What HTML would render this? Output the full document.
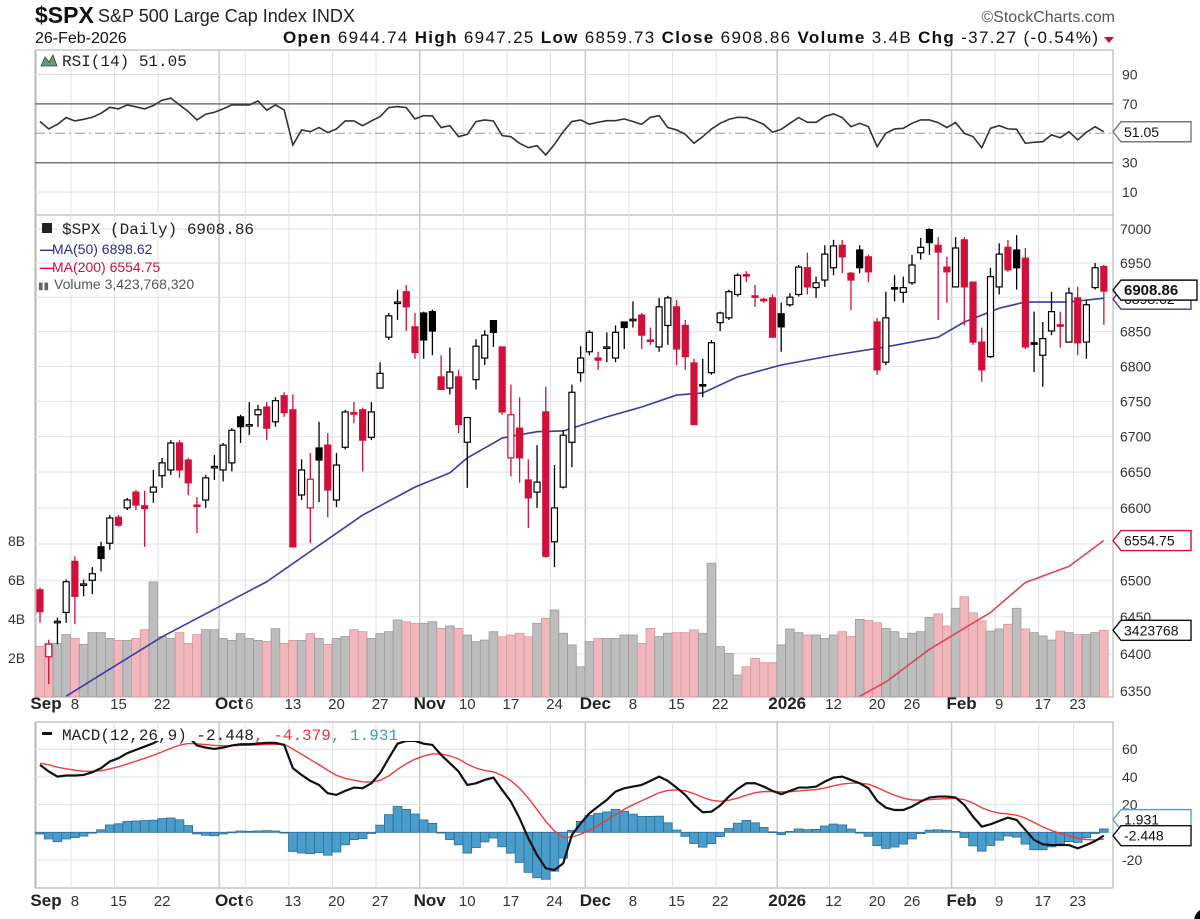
<!DOCTYPE html>
<html><head><meta charset="utf-8"><style>
html,body{margin:0;padding:0;background:#fff;}
svg{display:block;font-family:"Liberation Sans",Arial,sans-serif;}
</style></head><body>
<svg id="chart" width="1200" height="919" viewBox="0 0 1200 919" xmlns="http://www.w3.org/2000/svg">
<defs>
<clipPath id="cRsi"><rect x="35" y="50" width="1078" height="165"/></clipPath>
<clipPath id="cPx"><rect x="35" y="215" width="1078" height="482"/></clipPath>
<clipPath id="cMacd"><rect x="35" y="741" width="1078" height="147"/></clipPath>
</defs>
<g>
<text x="35" y="23" font-size="23" font-weight="bold" fill="#111">$SPX</text>
<text x="98" y="22" font-size="18" fill="#222">S&amp;P 500 Large Cap Index  INDX</text>
<text x="1115" y="22" font-size="16" fill="#555" text-anchor="end">©StockCharts.com</text>
<text x="35" y="43" font-size="16" fill="#111">26-Feb-2026</text>
<text x="283" y="43" font-size="17" fill="#111" textLength="815" lengthAdjust="spacing"><tspan font-weight="bold">Open</tspan> 6944.74  <tspan font-weight="bold">High</tspan> 6947.25  <tspan font-weight="bold">Low</tspan> 6859.73  <tspan font-weight="bold">Close</tspan> 6908.86  <tspan font-weight="bold">Volume</tspan> 3.4B  <tspan font-weight="bold">Chg</tspan> -37.27 (-0.54%)</text>
<polygon points="1104,37 1114,37 1109,43" fill="#c8102e"/>
</g>
<g id="panels"></g>
<circle cx="1207" cy="921" r="13" fill="#000"/>
</svg>
<script>
const opens=[6487,6396,6442,6456,6526,6494,6500,6546,6551,6587,6600,6622,6603,6622,6645,6653,6691,6667,6604,6611,6657,6653,6663,6728,6716,6731,6742,6721,6758,6738,6618,6600,6684,6688,6611,6685,6734,6738,6699,6769,6842,6892,6908,6857,6877,6879,6785,6769,6785,6692,6781,6812,6866,6828,6670,6712,6639,6622,6735,6553,6629,6692,6791,6821,6812,6827,6812,6864,6867,6874,6838,6828,6859,6886,6859,6805,6774,6791,6863,6870,6904,6933,6902,6897,6899,6876,6889,6904,6943,6914,6925,6943,6976,6935,6969,6959,6864,6806,6914,6907,6921,6965,6999,6976,6944,6915,6984,6922,6835,6814,6915,6973,6969,6957,6834,6816,6851,6860,6835,6899,6835,6914,6944.74];
const highs=[6490,6419,6449,6501,6533,6501,6518,6553,6590,6590,6614,6625,6624,6653,6670,6695,6695,6670,6615,6646,6674,6691,6712,6731,6749,6745,6749,6756,6763,6760,6668,6677,6721,6705,6677,6738,6749,6741,6749,6806,6877,6911,6918,6877,6879,6882,6816,6827,6795,6728,6839,6852,6867,6828,6774,6756,6668,6688,6771,6660,6709,6774,6829,6852,6821,6849,6859,6864,6894,6877,6856,6899,6902,6896,6867,6811,6811,6838,6879,6911,6935,6938,6918,6899,6904,6892,6906,6947,6965,6930,6976,6984,6984,6937,6976,6962,6870,6908,6932,6930,6962,6987,7001,6988,6959,6988,6988,6922,6856,6943,6979,6984,6991,6972,6879,6864,6908,6879,6914,6915,6896,6950,6947.25];
const lows=[6442,6359,6413,6442,6440,6478,6481,6512,6542,6574,6597,6597,6546,6607,6628,6646,6642,6618,6565,6600,6639,6637,6651,6691,6702,6714,6695,6714,6728,6545,6611,6551,6608,6587,6601,6682,6719,6651,6695,6769,6838,6867,6851,6811,6811,6816,6767,6760,6705,6628,6767,6802,6828,6731,6644,6635,6572,6600,6531,6518,6627,6657,6778,6816,6795,6806,6806,6825,6856,6825,6831,6821,6831,6802,6795,6717,6756,6788,6851,6867,6901,6922,6886,6892,6842,6821,6886,6901,6904,6899,6915,6932,6935,6881,6935,6922,6788,6802,6894,6892,6918,6955,6962,6867,6892,6914,6859,6831,6778,6812,6904,6937,6911,6825,6792,6771,6845,6827,6834,6816,6811,6911,6859.73];
const closes=[6457,6413,6444,6498,6478,6495,6509,6530,6586,6576,6611,6604,6599,6629,6663,6691,6653,6635,6602,6642,6658,6688,6709,6714,6717,6738,6712,6751,6734,6546,6653,6640,6667,6625,6660,6735,6733,6695,6735,6790,6873,6893,6886,6820,6838,6851,6767,6792,6717,6727,6829,6845,6849,6735,6731,6670,6614,6636,6533,6600,6702,6763,6812,6849,6809,6828,6849,6856,6868,6845,6837,6886,6899,6825,6814,6717,6773,6834,6877,6908,6932,6931,6900,6895,6842,6857,6900,6944,6915,6921,6963,6975,6959,6925,6943,6937,6795,6870,6913,6914,6947,6973,6980,6966,6937,6972,6915,6835,6795,6930,6963,6940,6943,6828,6833,6840,6879,6858,6906,6834,6889,6943,6908.86];
const volumes=[2.6,2.75,2.75,3.2,3.0,2.7,3.3,3.3,3.0,2.9,2.9,3.0,3.45,5.9,3.1,3.0,3.3,2.75,3.2,3.45,3.45,3.0,2.9,3.25,3.0,2.9,2.85,3.5,2.75,2.9,2.9,3.25,3.0,2.7,3.0,3.1,3.45,3.35,3.0,3.25,3.35,3.95,
3.86,3.78,3.78,3.86,3.52,3.64,3.52,3.18,2.84,2.92,3.35,3.09,3.18,3.27,3.09,3.78,4.03,4.46,3.27,2.67,1.55,2.84,3.0,3.0,3.0,3.18,3.18,2.75,3.52,3.1,3.27,3.3,3.3,3.44,3.27,6.86,2.58,2.24,1.13,1.55,1.98,1.76,1.76,
2.67,3.49,3.3,3.18,3.18,3.0,3.18,3.35,3.1,3.98,3.92,3.81,3.52,3.35,3.0,3.27,3.35,4.08,4.26,3.64,4.55,5.14,4.32,3.91,3.38,3.49,3.73,4.55,3.49,3.3,3.13,2.92,3.38,3.3,3.2,3.2,3.3,3.42];
const rsi=[58.0,53.0,56.1,60.7,58.4,59.5,60.9,63.6,67.7,66.6,69.3,68.0,66.6,68.9,72.5,73.9,69.3,64.8,59.1,63.0,64.3,66.6,69.3,69.3,69.3,72.0,65.7,69.3,65.9,42.0,52.3,51.1,53.9,50.5,53.0,58.4,58.4,55.2,58.4,61.4,67.5,68.2,67.5,59.8,62.0,61.8,53.9,55.2,47.7,49.3,58.0,59.1,58.4,48.4,47.7,43.2,40.2,41.6,35.2,42.5,51.1,
58.0,59.1,56.1,57.5,58.6,58.6,59.8,58.0,56.1,60.9,62.0,53.9,52.3,49.3,43.2,47.7,52.9,56.8,59.5,60.9,60.7,58.6,56.1,50.7,52.7,56.8,60.7,57.5,57.5,61.4,63.2,60.7,54.5,56.8,54.5,40.9,50.0,53.0,53.4,56.8,59.1,59.1,57.3,53.9,57.3,50.0,47.7,40.2,53.4,55.2,53.0,52.7,43.2,43.9,44.3,48.9,47.0,51.1,45.5,50.7,54.5,51.05];
const macd=[48.7,43.9,40.2,41.0,41.0,41.4,43.4,46.3,51.1,53.5,57.1,59.5,61.9,64.3,68,71,72,69,62.7,61.2,60.2,61.2,62.7,63.6,63.6,64.1,64.6,64.6,63.1,46.3,41.4,37.1,34.2,28.2,27.0,29.9,32.3,31.8,35.4,42.7,53.5,64,66,66,64,63.1,55.9,49.9,43.9,34.2,35.4,37.8,39.5,30.6,22.2,10.1,-4.3,-16.4,-26.0,-27.2,-22.4,
-1.9,6.5,13.7,18.6,23.4,29.4,31.8,33.0,34.2,37.1,40.2,37.1,32.3,27.0,19.8,14.5,14.9,19.3,25.8,31.3,35.4,35.4,33.0,29.9,27.5,29.9,32.3,32.3,33.0,36.6,39.5,40.2,37.8,35.4,31.8,22.7,17.8,16.1,16.1,18.6,22.2,25.1,25.8,25.8,25.1,19.8,11.3,4.1,5.8,8.2,10.6,8.9,1.7,-5.5,-8.7,-9.2,-9.2,-9.2,-11.6,-9.2,-6.3,-2.448];
const signalSeed=49.9;
const ma50Idx=[3,14,26,37,43,47,49,53,57,60,65,69,73,76,80,85,91,97,103,106,110,113,118,122];
const ma50Val=[6343,6423,6498,6590,6629,6649,6670,6698,6707,6708,6728,6742,6759,6762,6785,6802,6816,6828,6842,6864,6884,6893,6893,6898.62];
const ma200Idx=[94,97,102,109,113,118,122];
const ma200Val=[6343,6362,6406,6456,6497,6519,6554.75];
const priceTicks=[7000,6950,6900,6850,6800,6750,6700,6650,6600,6550,6500,6450,6400,6350];
const volTicks=[2,4,6,8];
const rsiTicks=[90,70,50,30,10];
const macdTicks=[60,40,20,0,-20];
const dateIdx=[0,4,9,14,21,24,29,34,39,44,49,54,59,63,68,73,78,85,91,96,100,105,110,115,119];
const dateLbl=['Sep','8','15','22','Oct','6','13','20','27','Nov','10','17','24','Dec','8','15','22','2026','12','20','26','Feb','9','17','23'];
const monthIdx=[0,21,44,63,85,105];

const NS='http://www.w3.org/2000/svg';
const root=document.getElementById('panels');
function mk(tag,attrs,parent){const e=document.createElementNS(NS,tag);for(const k in attrs)e.setAttribute(k,attrs[k]);(parent||root).appendChild(e);return e;}
const X=i=>40+i*8.72;
const Yp=p=>229+4740*Math.log(7000/p);
const Yv=v=>697-v*19.5;
const Yr=r=>133.3-(r-50)*1.47;
const Ym=m=>832.3-m*1.385;
const L=35,R=1113;

[[50,215,'rsi-panel'],[215,697,'price-panel'],[722,888,'macd-panel']].forEach(p=>{
  const r=mk('rect',{x:L,y:p[0],width:R-L,height:p[1]-p[0],fill:'#fff',stroke:'#aaa','stroke-width':1});
  
  
});
dateIdx.forEach((d,k)=>{
  const isM=monthIdx.indexOf(d)>=0;
  [[50,215],[215,697],[722,888]].forEach(p=>{
    const ln=mk('line',{x1:X(d)-4,x2:X(d)-4,y1:p[0],y2:p[1],stroke:isM?'#c8c8c8':'#e2e2e2','stroke-width':isM?1.5:1});
    
    
  });
});
rsiTicks.forEach(t=>{
  const y=Yr(t);
  const dark=(t===70||t===30);
  const ln=mk('line',{x1:L,x2:R,y1:y,y2:y,stroke:dark?'#777':(t===50?'#999':'#e0e0e0'),'stroke-width':dark?1.5:1,'stroke-dasharray':t===50?'10,4,2,4':'none'});
  
  
  if(t!==50){const tx=mk('text',{x:1122,y:y+5,'font-size':14,fill:'#333'});tx.textContent=t;
  
  }
});
const rg=mk('g',{'clip-path':'url(#cRsi)'});
const rp=mk('polyline',{points:rsi.map((v,i)=>X(i)+','+Yr(v)).join(' '),fill:'none',stroke:'#333','stroke-width':1.6},rg);


priceTicks.forEach(t=>{
  const y=Yp(t);
  const ln=mk('line',{x1:L,x2:R,y1:y,y2:y,stroke:'#e2e2e2','stroke-width':1});
  
  
  const tx=mk('text',{x:1120,y:y+5,'font-size':14,fill:'#333'});tx.textContent=t;
  
  
});
volTicks.forEach(t=>{
  const tx=mk('text',{x:8,y:Yv(t)+5,'font-size':14,fill:'#333'});tx.textContent=t+'B';
  
  
});
const pg=mk('g',{'clip-path':'url(#cPx)'});
volumes.forEach((v,i)=>{
  const up=i===0?closes[i]>=opens[i]:closes[i]>=closes[i-1];
  const b=mk('rect',{x:X(i)-4.36,y:Yv(v),width:8.72,height:697-Yv(v),fill:up?'#bdbdbd':'#f0b7bd',stroke:up?'#9a9a9a':'#d8959e','stroke-width':0.8},pg);
  
  
});
const m50=mk('polyline',{points:ma50Idx.map((d,k)=>X(d)+','+Yp(ma50Val[k])).join(' '),fill:'none',stroke:'#3b3ba8','stroke-width':1.6,'stroke-linejoin':'round'},pg);


const m200=mk('polyline',{points:ma200Idx.map((d,k)=>X(d)+','+Yp(ma200Val[k])).join(' '),fill:'none',stroke:'#e0455a','stroke-width':1.6},pg);


opens.forEach((o,i)=>{
  const c=closes[i];
  const down=i===0?c<o:c<closes[i-1];
  const col=down?'#d0103a':'#000';
  const g=mk('g',{},pg);
  
  
  mk('line',{x1:X(i),x2:X(i),y1:Yp(highs[i]),y2:Yp(lows[i]),stroke:col,'stroke-width':1.3},g);
  const top=Math.min(Yp(o),Yp(c)),h=Math.max(1.5,Math.abs(Yp(o)-Yp(c)));
  mk('rect',{x:X(i)-3,y:top,width:6,height:h,fill:c<o?col:'#fff',stroke:col,'stroke-width':1.2},g);
});
function txt(x,y,s,attrs,name){const t=mk('text',Object.assign({x:x,y:y},attrs));t.textContent=s;
  
  return t;}
txt(62,66,'RSI(14) 51.05',{'font-size':16,'font-family':'Liberation Mono,monospace',fill:'#222'},'rsi-legend');
mk('polygon',{points:'41,66 45,57 49,62 53,55 57,66',fill:'#6a9a6a',stroke:'#345',"stroke-width":0.8});
txt(62,234,'$SPX (Daily) 6908.86',{'font-size':16,'font-family':'Liberation Mono,monospace',fill:'#222'},'price-legend');
mk('rect',{x:42,y:223,width:10,height:10,fill:'#222'});
txt(40,254,'—',{'font-size':14,fill:'#2a2a9a','font-weight':'bold'},'ma50-legend-swatch');
txt(52,254,'MA(50) 6898.62',{'font-size':14,fill:'#2a2a9a'},'ma50-legend');
txt(40,272,'—',{'font-size':14,fill:'#d0103a','font-weight':'bold'},'ma200-legend-swatch');
txt(52,272,'MA(200) 6554.75',{'font-size':14,fill:'#d0103a'},'ma200-legend');
txt(38,289,'▮▮',{'font-size':10,fill:'#666'},'volume-legend-icon');
txt(54,289,'Volume 3,423,768,320',{'font-size':14,fill:'#555'},'volume-legend');
[709,906].forEach((yy,r)=>{
  dateIdx.forEach((d,k)=>{
    const isM=monthIdx.indexOf(d)>=0;
    const t=mk('text',{x:X(d)+(isM?6:0),y:yy,'font-size':isM?17:15,'font-weight':isM?'bold':'normal','text-anchor':'middle',fill:isM?'#222':'#333'});
    t.textContent=dateLbl[k];
    
    
  });
});
macdTicks.forEach(t=>{
  const y=Ym(t);
  const ln=mk('line',{x1:L,x2:R,y1:y,y2:y,stroke:'#e2e2e2','stroke-width':1});
  
  
  if(t!==0){const tx=mk('text',{x:1122,y:y+5,'font-size':14,fill:'#333'});tx.textContent=t;
  
  }
});
const signal=[];let ema=signalSeed;
macd.forEach((m,i)=>{ema=i===0?signalSeed:ema+(m-ema)*0.2;signal.push(ema);});
const mg=mk('g',{'clip-path':'url(#cMacd)'});
macd.forEach((m,i)=>{
  const h=m-signal[i];
  const y0=Ym(0),y1=Ym(h);
  const b=mk('rect',{x:X(i)-4.36,y:Math.min(y0,y1),width:8.72,height:Math.max(0.8,Math.abs(y1-y0)),fill:'#4a9ccb',stroke:'#2c6f96','stroke-width':0.8},mg);
  
  
});
const sl=mk('polyline',{points:signal.map((v,i)=>X(i)+','+Ym(v)).join(' '),fill:'none',stroke:'#ee3b3b','stroke-width':1.4},mg);


const ml=mk('polyline',{points:macd.map((v,i)=>X(i)+','+Ym(v)).join(' '),fill:'none',stroke:'#111','stroke-width':2.2},mg);


const mlt=txt(62,740,'',{'font-size':16,'font-family':'Liberation Mono,monospace',fill:'#222'},'macd-legend');
mlt.innerHTML='MACD(12,26,9) -2.448<tspan fill="#e33">, -4.379</tspan><tspan fill="#3a9ad0">, 1.931</tspan>';
mk('rect',{x:42,y:732,width:10,height:3,fill:'#111'});
function tag(y,label,stroke,fill,bold,name){
  const g=mk('g',{});
  
  
  const w=bold?76:70;
  mk('polygon',{points:`1113,${y} 1121,${y-10} ${1121+w},${y-10} ${1121+w},${y+10} 1121,${y+10}`,fill:fill,stroke:stroke,'stroke-width':1.4},g);
  const t=mk('text',{x:1124,y:y+5,'font-size':bold?15:14,'font-weight':bold?'bold':'normal',fill:'#111'},g);t.textContent=label;
}
tag(Yr(51.05),'51.05','#777','#fff',false,'rsi-value-tag');
tag(Yp(6898.62)+1,'6898.62','#3b3ba8','#fff',false,'ma50-value-tag');
tag(Yp(6908.86)-1,'6908.86','#111','#fff',true,'close-value-tag');
tag(Yp(6554.75),'6554.75','#d0103a','#fff',false,'ma200-value-tag');
tag(Yv(3.42),'3423768','#111','#fff',false,'volume-value-tag');
tag(Ym(1.931)-10,'1.931','#5aa0d0','#fff',false,'histogram-value-tag');
tag(Ym(-2.448),'-2.448','#111','#fff',false,'macd-value-tag');
</script>
</body></html>
